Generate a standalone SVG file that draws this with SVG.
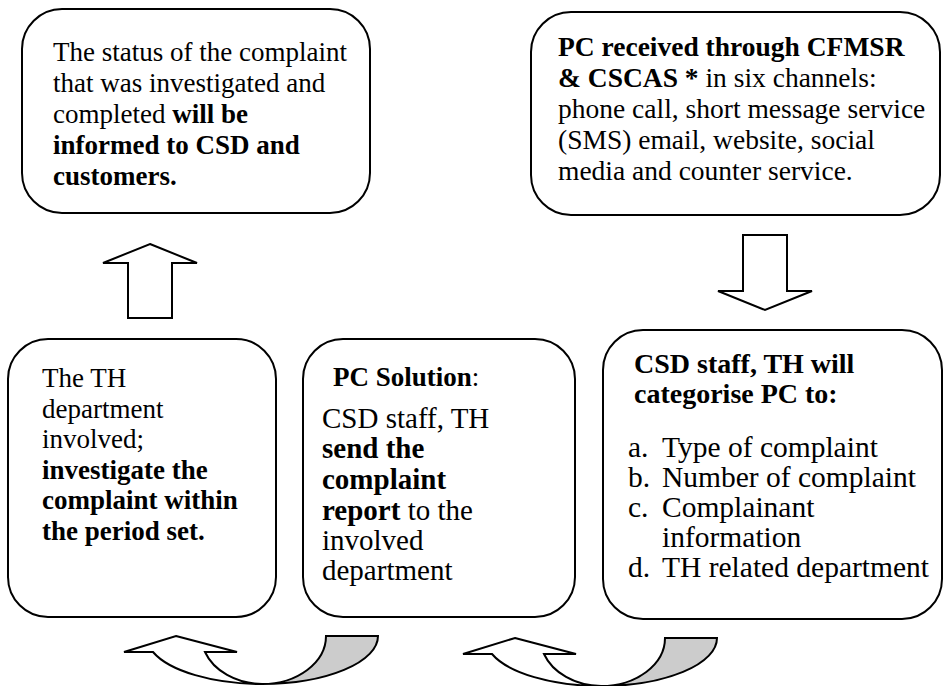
<svg xmlns="http://www.w3.org/2000/svg" width="944" height="686" viewBox="0 0 944 686">
<style>
.box{fill:#fff;stroke:#000;stroke-width:2}
.arr{fill:#fff;stroke:#000;stroke-width:2;stroke-linejoin:miter}
.grey{fill:#cccccc;stroke:#000;stroke-width:2}
text{font-family:"Liberation Serif","Times New Roman",serif;font-size:27px;fill:#000}
.b{font-weight:bold}
.t2{font-size:27.5px}
.t4{font-size:29px}
.t5h{font-size:28px}
.t5{font-size:29.5px}
</style>
<g id="node-status">
<rect class="box" x="22" y="9" width="348" height="204" rx="40" ry="40"/>
<text x="53" y="61">The status of the complaint</text>
<text x="53" y="92">that was investigated and</text>
<text x="53" y="123">completed <tspan class="b">will be</tspan></text>
<text x="53" y="154" class="b">informed to CSD and</text>
<text x="53" y="185" class="b">customers.</text>
</g>
<g id="node-received">
<rect class="box" x="531" y="12" width="409" height="203" rx="40" ry="40"/>
<text x="558" y="56" class="b t2">PC received through CFMSR</text>
<text x="558" y="87" class="t2"><tspan class="b">&amp; CSCAS *</tspan> in six channels:</text>
<text x="558" y="118" class="t2">phone call, short message service</text>
<text x="558" y="149" class="t2">(SMS) email, website, social</text>
<text x="558" y="180" class="t2">media and counter service.</text>
</g>
<g id="node-investigate">
<rect class="box" x="8" y="339" width="268" height="278" rx="40" ry="40"/>
<text x="42" y="387">The TH</text>
<text x="42" y="418">department</text>
<text x="42" y="448">involved;</text>
<text x="42" y="479" class="b">investigate the</text>
<text x="42" y="509" class="b">complaint within</text>
<text x="42" y="540" class="b">the period set.</text>
</g>
<g id="node-solution">
<rect class="box" x="303" y="339" width="272" height="278" rx="40" ry="40"/>
<text x="333" y="386"><tspan class="b">PC Solution</tspan>:</text>
<text x="322" y="428" class="t4">CSD staff, TH</text>
<text x="322" y="458" class="b t4">send the</text>
<text x="322" y="489" class="b t4">complaint</text>
<text x="322" y="520" class="t4"><tspan class="b">report</tspan> to the</text>
<text x="322" y="550" class="t4">involved</text>
<text x="322" y="580" class="t4">department</text>
</g>
<g id="node-categorise">
<rect class="box" x="603" y="330" width="339" height="289" rx="40" ry="40"/>
<text x="634" y="373" class="b t5h">CSD staff, TH will</text>
<text x="634" y="403" class="b t5h">categorise PC to:</text>
<text x="628" y="457" class="t5">a.</text><text x="662" y="457" class="t5">Type of complaint</text>
<text x="628" y="487" class="t5">b.</text><text x="662" y="487" class="t5">Number of complaint</text>
<text x="628" y="517" class="t5">c.</text><text x="662" y="517" class="t5">Complainant</text>
<text x="662" y="547" class="t5">information</text>
<text x="628" y="577" class="t5">d.</text><text x="662" y="577" class="t5">TH related department</text>
</g>
<g id="connectors">
<polygon class="arr" points="150,244 197,263 172,263 172,318 128,318 128,263 103,263"/>
<polygon class="arr" points="743,235 787,235 787,291 812,291 765,310 718,291 743,291"/>
<g id="curved-1">
<path class="grey" d="M326,636 L378,636 A116 48 0 0 1 262,684 A64 48 0 0 0 326,636 Z"/>
<path class="arr" d="M176,636 L237,652 L205,652 A62 48 0 0 0 262,684 A116 48 0 0 1 153,652 L124,652 Z"/>
</g>
<g id="curved-2" transform="translate(339,2)">
<path class="grey" d="M326,636 L378,636 A116 48 0 0 1 262,684 A64 48 0 0 0 326,636 Z"/>
<path class="arr" d="M176,636 L237,652 L205,652 A62 48 0 0 0 262,684 A116 48 0 0 1 153,652 L124,652 Z"/>
</g>
</g>
</svg>
